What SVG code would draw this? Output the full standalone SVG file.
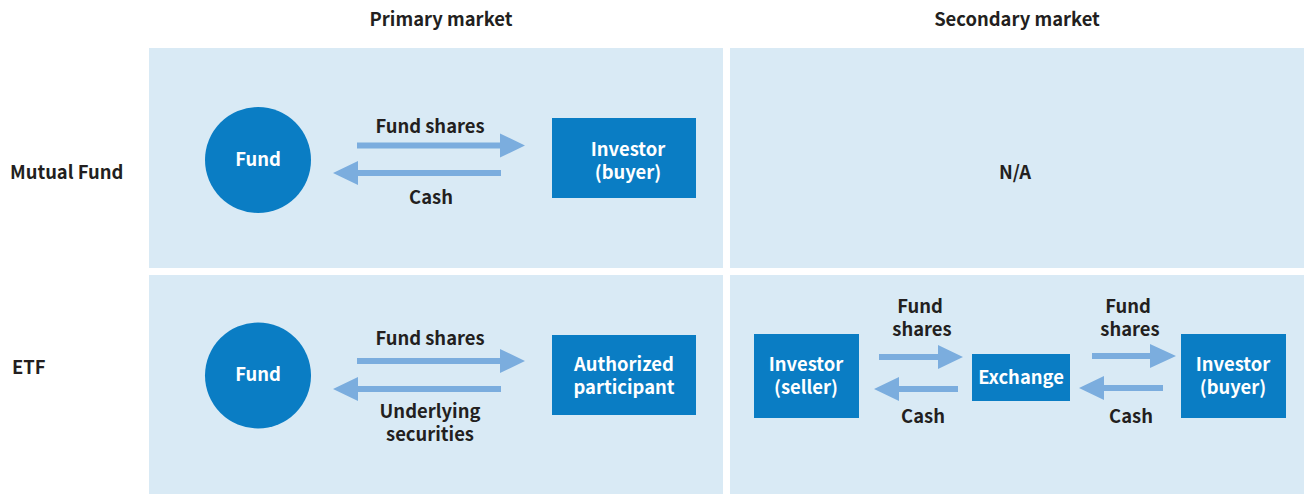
<svg xmlns="http://www.w3.org/2000/svg" width="1304" height="494" viewBox="0 0 1304 494">
<defs>
<style>
.panel{fill:#d9eaf5}
.node{fill:#0a7dc4}
.arr{fill:#7badde}
text{font-family:"Noto Sans CJK JP","Noto Sans",sans-serif;font-weight:700;font-size:18.4px;text-anchor:middle}
.lbl{fill:#231f20}
.wt{fill:#ffffff}
</style>
</defs>
<rect width="1304" height="494" fill="#ffffff"/>
<g id="panels">
<rect class="panel" x="149" y="48" width="574" height="220"/>
<rect class="panel" x="730" y="48" width="574" height="220"/>
<rect class="panel" x="149" y="275" width="574" height="219"/>
<rect class="panel" x="730" y="275" width="574" height="219"/>
</g>
<g id="headers">
<text class="lbl" x="441" y="26">Primary market</text>
<text class="lbl" x="1017" y="26">Secondary market</text>
<text class="lbl" x="10" y="179" style="text-anchor:start">Mutual Fund</text>
<text class="lbl" x="12" y="374" style="text-anchor:start">ETF</text>
<text class="lbl" x="1015" y="179">N/A</text>
</g>
<g id="connectors">
<polygon class="arr" points="357,142.5 500,142.5 500,133.5 525,145.5 500,157.5 500,148.5 357,148.5"/>
<polygon class="arr" points="501,170 358,170 358,161 333,173 358,185 358,176 501,176"/>
<polygon class="arr" points="357,358 500,358 500,349 525,361 500,373 500,364 357,364"/>
<polygon class="arr" points="501,386 358,386 358,377 333,389 358,401 358,392 501,392"/>
<polygon class="arr" points="879,354 938,354 938,345 963,357 938,369 938,360 879,360"/>
<polygon class="arr" points="958,386 899,386 899,377 874,389 899,401 899,392 958,392"/>
<polygon class="arr" points="1092,353 1150,353 1150,344 1176,356 1150,368 1150,359 1092,359"/>
<polygon class="arr" points="1163,385 1104,385 1104,376 1079,388 1104,400 1104,391 1163,391"/>
<text class="lbl" x="430" y="133">Fund shares</text>
<text class="lbl" x="431" y="204">Cash</text>
<text class="lbl" x="430" y="345">Fund shares</text>
<text class="lbl"><tspan x="430" y="418">Underlying</tspan><tspan x="430" y="441">securities</tspan></text>
<text class="lbl"><tspan x="920" y="313">Fund</tspan><tspan x="922" y="336">shares</tspan></text>
<text class="lbl" x="923" y="423">Cash</text>
<text class="lbl"><tspan x="1128" y="313">Fund</tspan><tspan x="1130" y="336">shares</tspan></text>
<text class="lbl" x="1131" y="423">Cash</text>
</g>
<g id="mf-fund">
<circle class="node" cx="258" cy="160" r="53"/>
<text class="wt" x="258" y="166">Fund</text>
</g>
<g id="mf-investor">
<rect class="node" x="552" y="118" width="144" height="80"/>
<text class="wt"><tspan x="628" y="156">Investor</tspan><tspan x="628" y="179">(buyer)</tspan></text>
</g>
<g id="etf-fund">
<circle class="node" cx="258" cy="375.5" r="53"/>
<text class="wt" x="258" y="381">Fund</text>
</g>
<g id="etf-ap">
<rect class="node" x="552" y="335" width="144" height="80"/>
<text class="wt"><tspan x="624" y="371">Authorized</tspan><tspan x="624" y="394">participant</tspan></text>
</g>
<g id="seller">
<rect class="node" x="754" y="334" width="105" height="84"/>
<text class="wt"><tspan x="806" y="371">Investor</tspan><tspan x="806" y="394">(seller)</tspan></text>
</g>
<g id="exchange">
<rect class="node" x="972" y="354" width="98" height="47"/>
<text class="wt" x="1021" y="384">Exchange</text>
</g>
<g id="buyer">
<rect class="node" x="1181" y="334" width="105" height="84"/>
<text class="wt"><tspan x="1233" y="371">Investor</tspan><tspan x="1233" y="394">(buyer)</tspan></text>
</g>
</svg>
